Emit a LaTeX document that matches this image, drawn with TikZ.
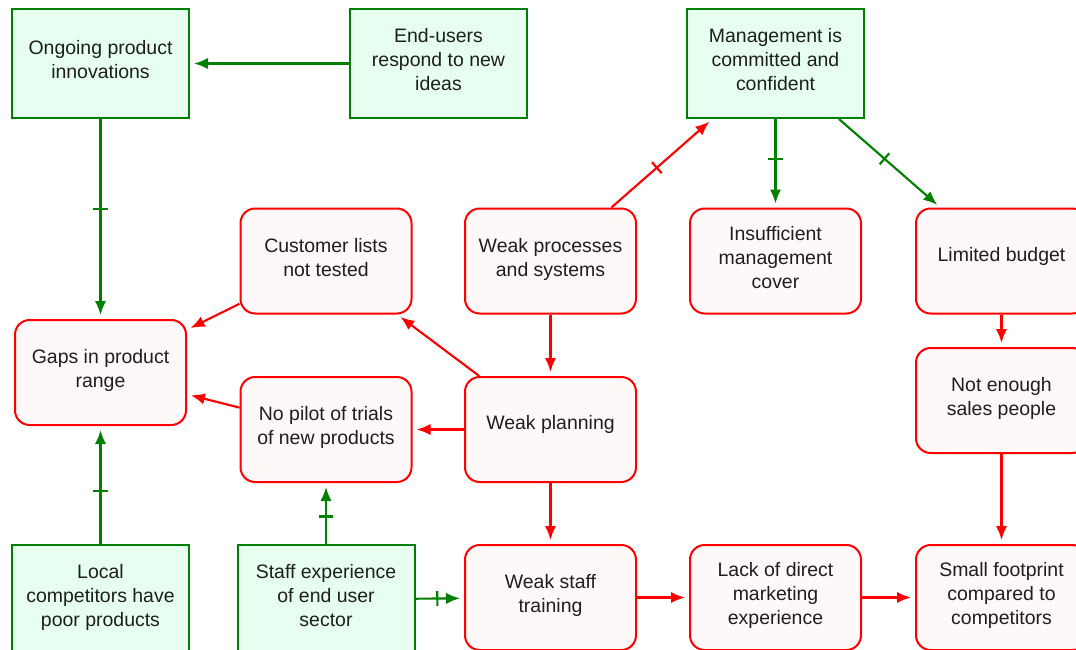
\documentclass[tikz,border=0pt]{standalone}
\usepackage{fontspec}
\setmainfont{Liberation Sans}
\usetikzlibrary{arrows.meta,decorations.markings}
\definecolor{causegreen}{RGB}{0,128,0}
\definecolor{causefill}{RGB}{230,255,241}
\definecolor{issuered}{RGB}{255,0,0}
\definecolor{issuefill}{RGB}{255,248,248}
\definecolor{boxtext}{RGB}{30,30,30}
\begin{document}
\begin{tikzpicture}[x=0.75pt, y=-0.75pt,
    font=\fontsize{14.6}{18}\selectfont,
    box/.style={line width=1.5pt, align=center, text=boxtext, execute at end node={\rule[-6pt]{0pt}{0pt}}},
    cause/.style={box, draw=causegreen, fill=causefill, minimum width=132.75pt, minimum height=81.75pt},
    issue/.style={box, draw=issuered, fill=issuefill, rounded corners=11pt, minimum width=128.25pt, minimum height=78.75pt},
    oneline/.style={text depth=10pt},
    link/.style={-{Latex[length=10.5pt,width=8.5pt]}, line width=1.6pt, shorten >=3pt},
    tick/.style={postaction={decorate}, decoration={markings, mark=at position 0.45 with {\draw[-, shorten >=0pt, line width=1.6pt] (0,-5.5pt) -- (0,5.5pt);}}}]
    \useasboundingbox (0,0) rectangle (1076,650);

    % Green causes
    \node[cause] (ongoing) at (100.5,63.5) {Ongoing product\\innovations};
    \node[cause] (endusers) at (438.5,63.5) {End-users\\respond to new\\ideas};
    \node[cause] (management) at (775.5,63.5) {Management is\\committed and\\confident};
    \node[cause] (competitors) at (100.5,599.5) {Local\\competitors have\\poor products};
    \node[cause] (staffexp) at (326,599.5) {Staff experience\\of end user\\sector};

    % Red issues
    \node[issue] (custlists) at (326,261) {Customer lists\\not tested};
    \node[issue] (processes) at (550.5,261) {Weak processes\\and systems};
    \node[issue] (cover) at (775.5,261) {Insufficient\\management\\cover};
    \node[issue, oneline] (budget) at (1001.5,261) {Limited budget};
    \node[issue] (gaps) at (100.5,372.5) {Gaps in product\\range};
    \node[issue] (nopilot) at (326,429.5) {No pilot of trials\\of new products};
    \node[issue, oneline] (planning) at (550.5,429.5) {Weak planning};
    \node[issue] (sales) at (1001.5,400.5) {Not enough\\sales people};
    \node[issue] (training) at (550.5,597.5) {Weak staff\\training};
    \node[issue] (marketing) at (775.5,597.5) {Lack of direct\\marketing\\experience};
    \node[issue] (footprint) at (1001.5,597.5) {Small footprint\\compared to\\competitors};

    % Green links
    \draw[link, causegreen] (endusers) -- (ongoing);
    \draw[link, causegreen, tick] (ongoing) -- (gaps);
    \draw[link, causegreen, tick] (management) -- (cover);
    \draw[link, causegreen, tick] (management) -- (budget);
    \draw[link, causegreen, tick] (competitors) -- (gaps);
    \draw[link, causegreen, tick] (staffexp) -- (nopilot);
    \draw[link, causegreen, tick] (staffexp) -- (training);

    % Red links
    \draw[link, issuered, tick] (processes) -- (management);
    \draw[link, issuered] (custlists) -- (gaps);
    \draw[link, issuered] (nopilot) -- (gaps);
    \draw[link, issuered] (planning) -- (custlists);
    \draw[link, issuered] (planning) -- (nopilot);
    \draw[link, issuered] (processes) -- (planning);
    \draw[link, issuered] (planning) -- (training);
    \draw[link, issuered] (training) -- (marketing);
    \draw[link, issuered] (marketing) -- (footprint);
    \draw[link, issuered] (budget) -- (sales);
    \draw[link, issuered] (sales) -- (footprint);

\end{tikzpicture}
\end{document}
